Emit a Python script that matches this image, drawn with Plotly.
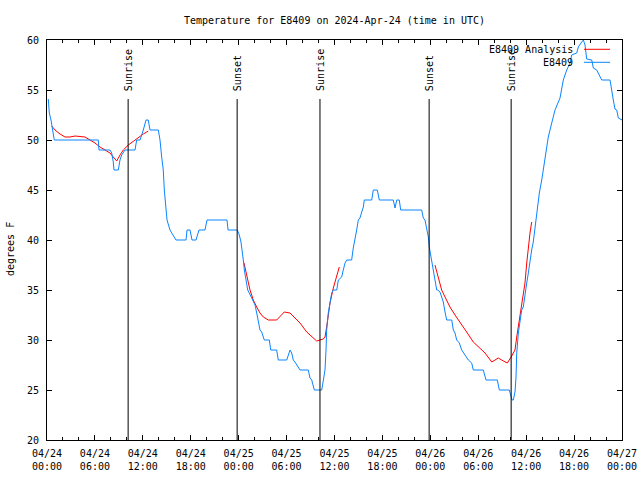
import pandas as pd
import plotly.graph_objects as go

# ---- data (hours since 2024-04-24 00:00 UTC) ----
obs_hours = [0.16, 0.29, 0.5, 0.71, 0.91, 6.42, 6.51, 7.89, 8.10, 8.30, 8.39, 8.93, 9.14, 9.35,
             9.77, 9.89, 11.02, 11.23, 11.65, 12.06, 12.40, 12.68, 12.90, 13.94, 14.15, 14.36,
             14.56, 14.69, 14.78, 15.03, 15.40, 16.03, 16.15, 17.41, 17.53, 17.91, 18.16, 18.66,
             19.03, 19.78, 20.04, 22.54, 22.67, 23.83, 24.08, 24.29, 24.46, 24.58, 24.71, 24.92,
             25.13, 25.33, 25.63, 25.83, 26.05, 26.26, 26.46, 26.67, 26.88, 27.09, 27.21, 27.84,
             28.01, 28.76, 28.96, 30.02, 30.22, 30.43, 30.64, 30.84, 31.05, 31.27, 31.68, 32.72,
             32.93, 33.15, 33.35, 33.47, 34.40, 34.60, 34.81, 34.94, 35.02, 35.22, 35.44, 35.65,
             35.85, 36.28, 36.48, 36.90, 37.10, 37.32, 37.53, 38.15, 38.35, 38.57, 38.78, 38.98,
             39.19, 39.41, 39.61, 39.73, 40.66, 40.86, 41.36, 41.61, 43.36, 43.58, 43.79, 44.11,
             44.29, 46.92, 47.12, 47.33, 47.55, 47.75, 47.87, 48.05, 48.30, 48.58, 48.80, 48.92,
             49.21, 49.42, 49.62, 49.84, 50.05, 50.68, 50.88, 51.09, 51.30, 51.63, 51.93, 52.34,
             52.76, 53.18, 53.38, 54.63, 54.85, 54.97, 56.39, 56.64, 57.89, 58.10, 58.23, 58.39,
             58.60, 58.73, 58.82, 59.02, 59.23, 59.44, 59.64, 59.85, 60.07, 60.27, 60.48, 60.69,
             60.89, 61.02, 61.23, 61.32, 61.52, 61.65, 61.95, 62.36, 62.77, 63.20, 63.61, 64.03,
             64.24, 64.65, 65.08, 65.49, 65.70, 66.33, 66.53, 66.95, 67.16, 67.37, 67.58, 68.21,
             68.41, 68.83, 69.03, 69.46, 70.50, 70.71, 70.91, 71.12, 71.34, 71.54, 72.0]
obs_temps = [54.1, 52.7, 52, 51, 50, 50, 49, 49, 48.7, 47.8, 47, 47, 48, 48.5,
             49, 49, 49, 50, 50, 51, 52, 52, 51, 51, 50, 48.3,
             47, 45, 44, 42, 41, 40.2, 40, 40, 41, 41, 40, 40,
             41, 41, 42, 42, 41, 41, 40.5, 39.8, 39, 38, 37, 36,
             35, 34.7, 34.2, 34, 33.5, 32.7, 32, 31, 30.8, 30.3, 30, 30,
             29, 29, 28, 28, 28.5, 29, 28.7, 28, 27.8, 27.5, 27, 27,
             26.2, 26, 25.5, 25, 25, 26, 27, 29, 31, 32.7, 33.8, 34.7,
             35, 35, 36, 36.3, 37, 37.7, 38, 38, 39.2, 40, 41, 42,
             42.2, 42.8, 43.3, 44, 44, 45, 45, 44, 44, 43.2, 44, 44,
             43, 43, 42.2, 42, 41, 40.3, 39.3, 38.5, 37.3, 36.3, 35, 35,
             34.8, 34.3, 33.8, 32.8, 32, 32, 31, 30.7, 30, 29.7, 29, 28.5,
             28, 27.7, 27, 27, 26.3, 26, 26, 25, 25, 24.3, 24, 24,
             24.8, 26.3, 28.7, 30.7, 32, 33, 33.3, 34.7, 35.7, 36.7, 38, 39,
             39.8, 40.7, 42, 42.7, 43.7, 44.7, 46, 48.3, 50.3, 51.7, 53, 53.8,
             54.2, 56, 57, 57.7, 58.5, 58.7, 59.3, 59.8, 60, 59.5, 58.1, 58,
             57.2, 57, 56.7, 56, 56, 54.8, 54, 53.1, 53, 52.2, 52]

ana_hours = [0.59, 1.00, 1.63, 2.25, 2.88, 3.51, 4.76, 5.38, 6.01, 6.64, 7.26, 7.89, 8.30, 8.73,
             9.14, 9.55, 10.18, 10.81, 11.43, 12.06, 12.68, None,
             24.67, 25.01, 25.42, 25.63, 25.83, 26.26, 26.67, 27.09, 27.71, 28.76, 29.18, 29.71,
             30.43, 30.84, 31.68, 32.52, 33.35, 33.77, 34.60, 34.81, 35.02, 35.22, 35.44, 35.85,
             36.28, 36.60, None,
             48.58, 49.00, 49.42, 49.84, 50.46, 51.09, 51.72, 52.55, 53.38, 54.22, 54.85, 55.69,
             56.51, 57.14, 57.64, 58.19, 58.60, 58.82, 59.10, 59.44, 59.85, 60.07, 60.27, 60.48,
             60.69]
ana_temps = [51.4, 51, 50.6, 50.3, 50.3, 50.4, 50.3, 50, 49.7, 49.3, 49, 48.7, 48.3, 47.9,
             48.5, 49, 49.5, 49.9, 50.2, 50.6, 50.9, None,
             37.7, 36.3, 35, 34.5, 34, 33.3, 32.7, 32.3, 32, 32, 32.4, 32.8,
             32.7, 32.4, 31.7, 30.8, 30.2, 29.9, 30.1, 30.3, 31.3, 32.7, 33.7, 35.2,
             36.3, 37.3, None,
             37.5, 36.3, 35, 34.3, 33.3, 32.5, 31.8, 30.8, 29.8, 29.2, 28.7, 27.8,
             28.2, 27.9, 27.7, 28.4, 29, 30.3, 31.7, 33.3, 35.7, 37.7, 39.3, 40.7,
             41.8]

sun_labels = ["Sunrise", "Sunset", "Sunrise", "Sunset", "Sunrise"]
sun_hours = [10.16, 23.81, 34.18, 47.85, 58.12]

y_ticks = [20, 25, 30, 35, 40, 45, 50, 55, 60]

base = pd.Timestamp("2024-04-24 00:00")


def to_time(h):
    return None if h is None else base + pd.Timedelta(hours=h)


obs_x = [to_time(h) for h in obs_hours]
ana_x = [to_time(h) for h in ana_hours]
sun_x = [to_time(h) for h in sun_hours]

FONT = "DejaVu Sans Mono"
x0 = base
x1 = base + pd.Timedelta(hours=72)

fig = go.Figure()
fig.add_trace(go.Scatter(x=ana_x, y=ana_temps, mode="lines", name="E8409 Analysis",
                         line=dict(color="#ff0000", width=1), connectgaps=False,
                         showlegend=False))
fig.add_trace(go.Scatter(x=obs_x, y=obs_temps, mode="lines", name="E8409",
                         line=dict(color="#0a84ff", width=1), showlegend=False))
# invisible trace on the overlaying axis to carry the second tick-label row
fig.add_trace(go.Scatter(x=[x0, x1], y=[None, None], xaxis="x2", showlegend=False,
                         hoverinfo="skip"))

line_top = 54.1
for lab, xv in zip(sun_labels, sun_x):
    fig.add_shape(type="line", xref="x", yref="y", x0=xv, x1=xv, y0=20, y1=line_top,
                  line=dict(color="black", width=1))
    fig.add_annotation(x=xv, y=line_top, xref="x", yref="y", text=lab, textangle=-90,
                       showarrow=False, xanchor="center", yanchor="bottom", yshift=6,
                       font=dict(family=FONT, size=10, color="black"))

# legend drawn gnuplot-style (text left, sample right)
W, H = 575.0, 400.0
def px(xp):
    return (xp - 47) / W
def py(yp):
    return (440 - yp) / H

leg = [("E8409 Analysis", "#ff0000", 49.3), ("E8409", "#0a84ff", 62.3)]
for txt, col, yy in leg:
    fig.add_annotation(x=px(575), y=py(yy), xref="paper", yref="paper", text=txt,
                       showarrow=False, xanchor="right", yanchor="middle",
                       font=dict(family=FONT, size=10, color="black"))
    fig.add_shape(type="line", xref="paper", yref="paper", x0=px(584), x1=px(610),
                  y0=py(yy), y1=py(yy), line=dict(color=col, width=1))

fig.add_annotation(x=px(10), y=py(249), xref="paper", yref="paper", text="degrees F",
                   textangle=-90, showarrow=False, xanchor="center", yanchor="middle",
                   font=dict(family=FONT, size=10, color="black"))

fig.update_layout(
    width=640, height=480, autosize=False,
    margin=dict(l=47, r=18, t=40, b=40, autoexpand=False),
    paper_bgcolor="white", plot_bgcolor="white",
    title=dict(text="Temperature for E8409 on 2024-Apr-24 (time in UTC)",
               x=0.5, xref="paper", y=1 - 20 / 480, yanchor="middle",
               font=dict(family=FONT, size=10, color="black")),
    font=dict(family=FONT, size=10, color="black"),
    xaxis=dict(type="date", range=[x0, x1], tick0=x0, dtick=6 * 3600 * 1000,
               tickformat="%m/%d", showgrid=False, zeroline=False, automargin=False,
               showline=True, linecolor="black", linewidth=1, mirror="ticks",
               ticks="inside", ticklen=5, tickcolor="black", ticklabelstandoff=4,
               minor=dict(dtick=2 * 3600 * 1000, ticks="inside", ticklen=3,
                          tickcolor="black", showgrid=False),
               tickfont=dict(family=FONT, size=10)),
    xaxis2=dict(type="date", range=[x0, x1], tick0=x0, dtick=6 * 3600 * 1000,
                tickformat="%H:%M", overlaying="x", anchor="y", side="bottom",
                automargin=False,
                showgrid=False, zeroline=False, showline=False, ticks="",
                ticklabelstandoff=19, tickfont=dict(family=FONT, size=10)),
    yaxis=dict(range=[20, 60], tickvals=y_ticks, showgrid=False, zeroline=False,
               automargin=False,
               showline=True, linecolor="black", linewidth=1, mirror="ticks",
               ticks="inside", ticklen=5, tickcolor="black", ticklabelstandoff=5,
               tickfont=dict(family=FONT, size=10)),
)

fig.write_html("out.html", config={"displayModeBar": False, "responsive": False},
               post_script="document.body.style.margin='0';document.body.style.overflow='hidden';")
